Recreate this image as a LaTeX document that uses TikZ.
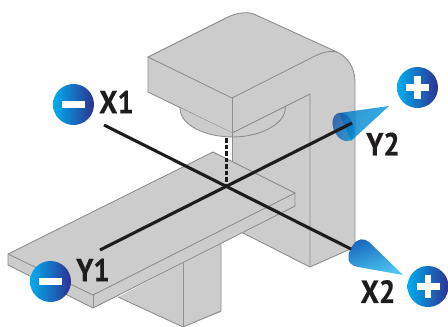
\documentclass[tikz,border=0pt]{standalone}
\usepackage{fontspec}
\setmainfont[BoldFeatures={FakeBold=0.5}]{PT Sans}
\definecolor{body}{HTML}{CCCCCC}
\definecolor{edge}{HTML}{8E8E8E}
\definecolor{ink}{HTML}{1F1C1D}
\definecolor{cyanA}{HTML}{00AEEF}
\definecolor{blueB}{HTML}{0072BC}
\definecolor{navyC}{HTML}{2E3192}
\tikzset{
  edgeline/.style={draw=edge,line width=0.9pt,line join=round},
  axisline/.style={draw=ink,line width=3.1pt},
  btn/.style={circle,inner sep=0pt,minimum size=41pt,left color=cyanA,middle color=blueB,right color=navyC},
  sign/.style={draw=white,line width=6.5pt},
  lab/.style={font=\fontsize{32}{32}\selectfont\bfseries,text=ink,inner sep=0pt,xscale=0.9,transform shape}
}
\begin{document}
\begin{tikzpicture}[x=1pt,y=-1pt]
\useasboundingbox (0,0) rectangle (448,327);
% pedestal
\fill[body] (118,297) -- (183,263) -- (221,244) -- (221,312) -- (183,327) -- cycle;
\draw[edgeline] (118,297) -- (183,327) -- (221,311) -- (221,244);
\draw[edgeline] (183,263) -- (183,327);
% gantry
\fill[body] (148,57) -- (224,19) .. controls (233,14) and (246,10) .. (256,15) -- (337,52)
  .. controls (348,57) and (355,68) .. (355,82) -- (355,247) -- (310,267) -- (241,232) -- (232,225) -- (232,133) -- (148,92) -- cycle;
\draw[edgeline] (148,92) -- (148,57) -- (224,19) .. controls (233,14) and (246,10) .. (256,15) -- (337,52)
  .. controls (348,57) and (355,68) .. (355,82) -- (355,247) -- (310,267) -- (241,232);
\draw[edgeline] (148,57) -- (232,98) -- (311,58) .. controls (320,53) and (330,50) .. (337,52);
\draw[edgeline] (232,98) -- (232,133);
\draw[edgeline] (148,92) -- (232,133) -- (310,94) -- (310,267);
% lens
\fill[body] (180,108) .. controls (180,125) and (205,136) .. (232,137) -- (232,133) -- cycle;
\draw[edgeline] (180,108) .. controls (180,125) and (205,137) .. (233,137) .. controls (262,137) and (288,122) .. (285,106);
\draw[edgeline] (232,133) -- (232,162);
% table
\fill[body] (8,254) -- (213,152) -- (295,193) -- (295,206) -- (93,308) -- (8,265) -- cycle;
\draw[edgeline] (8,254) -- (213,152) -- (295,193) -- (295,206) -- (93,308) -- (8,265) -- cycle;
\draw[edgeline] (8,254) -- (93,295) -- (295,193);
\draw[edgeline] (93,295) -- (93,308);
% cone Y2
\shade[left color=blueB!90!cyanA,right color=cyanA!75!blueB,shading angle=64,opacity=0.8] (389,106) -- (339,113) -- (351,141) -- cycle;
\shade[left color=navyC!60!blueB,right color=blueB!50!cyanA,shading angle=64,opacity=0.8] (343.5,127) ellipse [x radius=10pt,y radius=15pt,rotate=25];
% cone X2
\shade[top color=navyC!55!cyanA,bottom color=cyanA!70!white,shading angle=20]
  (403,275) -- (369,242) .. controls (364,238) and (358,238) .. (353,245)
  .. controls (348,251) and (347,260) .. (350,263) .. controls (352,266) and (355,266) .. (358,267) -- cycle;
% axes
\coordinate (x1) at (104,125);
\coordinate (x2) at (351,249);
\coordinate (y1) at (100,250);
\coordinate (y2) at (352,123);
\coordinate (cross) at (226.5,186);
\coordinate (beam) at (226.5,138);
\draw[ink,line width=3pt,dash pattern=on 4.5pt off 2pt] (beam) -- (cross);
\draw[axisline] (x1) -- (x2);
\draw[axisline] (y1) -- (y2);
% buttons
\node[btn] (bx1) at (73.5,104.5) {};
\draw[sign] ([xshift=-11.5pt]bx1.center) -- ([xshift=11.5pt]bx1.center);
\node[btn] (by1) at (50.5,281.5) {};
\draw[sign] ([xshift=-11.5pt]by1.center) -- ([xshift=11.5pt]by1.center);
\node[btn] (by2) at (417.5,87.5) {};
\draw[sign] ([xshift=-11.5pt]by2.center) -- ([xshift=11.5pt]by2.center);
\draw[sign] ([yshift=-11.5pt]by2.center) -- ([yshift=11.5pt]by2.center);
\node[btn] (bx2) at (428,286.5) {};
\draw[sign] ([xshift=-11.5pt]bx2.center) -- ([xshift=11.5pt]bx2.center);
\draw[sign] ([yshift=-11.5pt]bx2.center) -- ([yshift=11.5pt]bx2.center);
% labels
\node[lab] (lx1) at (116.5,102) {X1};
\node[lab] (ly1) at (93,270) {Y1};
\node[lab] (ly2) at (383,144) {Y2};
\node[lab] (lx2) at (378,291.5) {X2};
\end{tikzpicture}
\end{document}
